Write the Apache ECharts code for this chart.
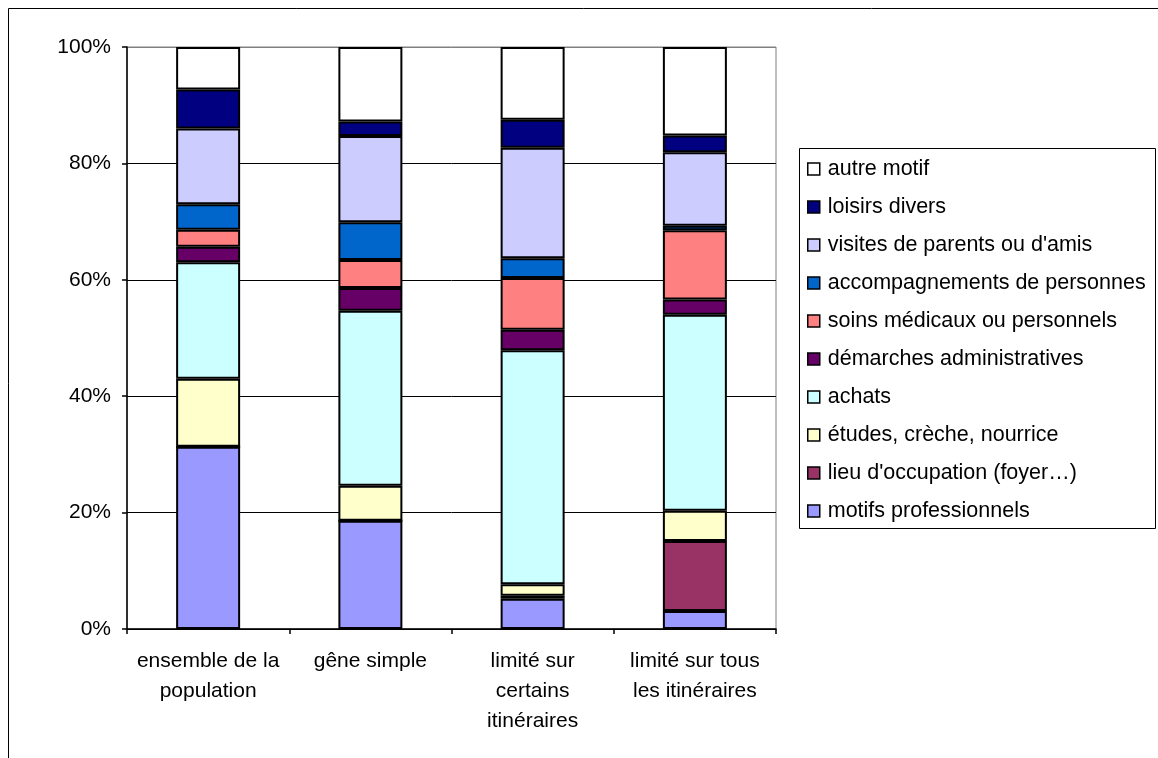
<!DOCTYPE html>
<html>
<head>
<meta charset="utf-8">
<script src="https://cdn.jsdelivr.net/npm/echarts@6/dist/echarts.min.js"></script>
<style>
  html, body { margin: 0; padding: 0; background: #fff; }
  #chart { width: 1158px; height: 758px; }
</style>
</head>
<body>
<div id="chart"></div>
<script>
// Trip purposes by degree of mobility restriction (shares, %)
const categories = [
  'ensemble de la\npopulation',
  'gêne simple',
  'limité sur\ncertains\nitinéraires',
  'limité sur tous\nles itinéraires'
];

const motifsProfessionnels = [31.3, 18.6, 5.2, 3.1];
const lieuOccupation       = [0, 0, 0.5, 12.0];
const etudes               = [11.7, 6.0, 2.0, 5.2];
const achats               = [20.0, 30.1, 40.2, 33.7];
const demarches            = [2.7, 3.9, 3.5, 2.6];
const soins                = [2.9, 4.8, 8.9, 11.9];
const accompagnements      = [4.4, 6.5, 3.4, 0.8];
const visites              = [13.0, 14.8, 19.0, 12.6];
const loisirs              = [6.7, 2.5, 4.8, 2.9];
const autreMotif           = [7.3, 12.8, 12.5, 15.2];

const yTicks = [0, 20, 40, 60, 80, 100];

// Stack order, bottom to top
const stackSeries = [
  { name: 'motifs professionnels',        data: motifsProfessionnels, color: '#9999FF' },
  { name: "lieu d'occupation (foyer…)",   data: lieuOccupation,       color: '#993366' },
  { name: 'études, crèche, nourrice',     data: etudes,               color: '#FFFFCC' },
  { name: 'achats',                       data: achats,               color: '#CCFFFF' },
  { name: 'démarches administratives',    data: demarches,            color: '#660066' },
  { name: 'soins médicaux ou personnels', data: soins,                color: '#FF8080' },
  { name: 'accompagnements de personnes', data: accompagnements,      color: '#0066CC' },
  { name: "visites de parents ou d'amis", data: visites,              color: '#CCCCFF' },
  { name: 'loisirs divers',               data: loisirs,              color: '#000080' },
  { name: 'autre motif',                  data: autreMotif,           color: '#FFFFFF' }
];

const FONT = "'Liberation Sans', Arial, sans-serif";

const chart = echarts.init(document.getElementById('chart'), null, { renderer: 'canvas' });

chart.setOption({
  backgroundColor: '#fff',
  animation: false,
  textStyle: { fontFamily: FONT, color: '#000' },
  graphic: [
    // outer chart frame
    { type: 'rect', shape: { x: 8.5, y: 8.5, width: 1170, height: 770 },
      style: { fill: 'none', stroke: '#000', lineWidth: 1 }, silent: true, z: 0 },
    // legend frame
    { type: 'rect', shape: { x: 799.5, y: 148.5, width: 356, height: 380 },
      style: { fill: '#fff', stroke: '#000', lineWidth: 1 }, silent: true, z: 0 }
  ],
  grid: {
    left: 127, right: 382, top: 47, bottom: 129,
    show: true, borderColor: '#808080', borderWidth: 1, backgroundColor: 'transparent'
  },
  legend: {
    orient: 'vertical',
    left: 807, top: 157,
    padding: 0,
    itemWidth: 12, itemHeight: 12,
    itemGap: 14,
    icon: 'rect',
    data: stackSeries.map(s => s.name).reverse(),
    itemStyle: { borderColor: '#000', borderWidth: 1.5 },
    textStyle: { fontFamily: FONT, fontSize: 21.5, color: '#000', lineHeight: 24, padding: [0, 0, 0, 3] }
  },
  xAxis: {
    type: 'category',
    data: categories,
    axisLine: { lineStyle: { color: '#000', width: 1.5 } },
    axisTick: { show: true, length: 5, lineStyle: { color: '#000', width: 1.5 } },
    axisLabel: { fontFamily: FONT, fontSize: 21, color: '#000', lineHeight: 30, margin: 17, interval: 0 },
    splitLine: { show: false }
  },
  yAxis: {
    type: 'value',
    min: 0, max: 100, interval: 20,
    axisLine: { show: true, lineStyle: { color: '#000', width: 1.5 } },
    axisTick: { show: true, length: 5, lineStyle: { color: '#000', width: 1.5 } },
    axisLabel: {
      fontFamily: FONT, fontSize: 21, color: '#000', margin: 16,
      formatter: v => (yTicks.includes(v) ? v + '%' : '')
    },
    splitLine: { show: true, lineStyle: { color: ['#000', '#000', '#000', '#000', '#000', '#808080'], width: 1 } }
  },
  series: stackSeries.map(s => ({
    name: s.name,
    type: 'bar',
    stack: 'total',
    barWidth: 64,
    data: s.data,
    itemStyle: { color: s.color, borderColor: '#000', borderWidth: 2 },
    emphasis: { disabled: true }
  }))
});
</script>
</body>
</html>
